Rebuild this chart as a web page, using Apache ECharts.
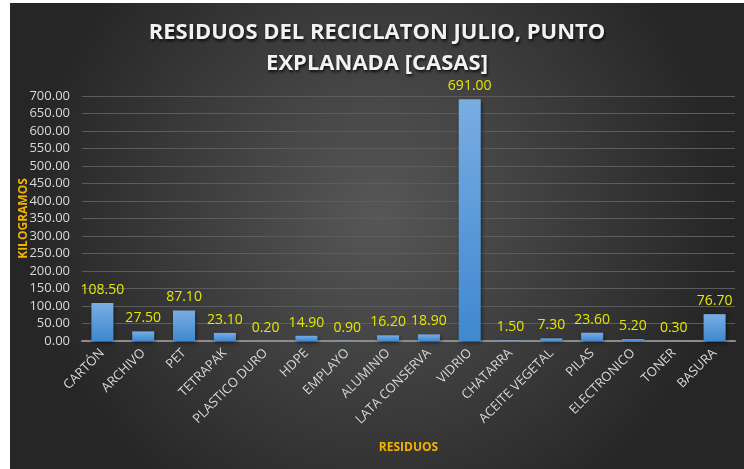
<!DOCTYPE html>
<html>
<head>
<meta charset="utf-8">
<script src="https://cdn.jsdelivr.net/npm/echarts@6/dist/echarts.min.js"></script>
<style>
  html, body { margin: 0; padding: 0; background: #ffffff; }
  #chart { position: absolute; left: 10px; top: 3px; width: 734px; height: 466px; }
</style>
</head>
<body>
<div id="chart"></div>
<script>
const categories = ['CARTÓN', 'ARCHIVO', 'PET', 'TETRAPAK', 'PLASTICO DURO', 'HDPE', 'EMPLAYO', 'ALUMINIO',
  'LATA CONSERVA', 'VIDRIO', 'CHATARRA', 'ACEITE VEGETAL', 'PILAS', 'ELECTRONICO', 'TONER', 'BASURA']
const kilos = [108.5, 27.5, 87.1, 23.1, 0.2, 14.9, 0.9, 16.2, 18.9, 691.0, 1.5, 7.3, 23.6, 5.2, 0.3, 76.7]
const yMin = 0
const yMax = 700
const yStep = 50

const chart = echarts.init(document.getElementById('chart'))

const option = {
  backgroundColor: {
    type: 'radial', x: 0.5, y: 0.45, r: 0.75,
    colorStops: [
      { offset: 0, color: '#575757' },
      { offset: 1, color: '#262626' }
    ]
  },
  title: {
    text: 'RESIDUOS DEL RECICLATON JULIO, PUNTO\nEXPLANADA [CASAS]',
    left: 'center',
    top: 9,
    textStyle: {
      fontFamily: 'Open Sans',
      fontSize: 22,
      fontWeight: 'bold',
      color: '#f2f2f2',
      lineHeight: 31,
      textShadowColor: 'rgba(0,0,0,0.8)',
      textShadowBlur: 3,
      textShadowOffsetX: 1,
      textShadowOffsetY: 2
    }
  },
  grid: { left: 72, right: 9, top: 93, bottom: 128, outerBoundsMode: 'none' },
  xAxis: {
    type: 'category',
    data: categories,
    name: 'RESIDUOS',
    nameLocation: 'middle',
    nameGap: 101,
    nameMoveOverlap: false,
    nameTextStyle: { color: '#f0b400', fontWeight: 'bold', fontSize: 12, fontFamily: 'Open Sans' },
    axisLine: { lineStyle: { color: '#8c8c8c', width: 2 } },
    axisTick: { show: false },
    axisLabel: {
      rotate: 45,
      interval: 0,
      color: '#d9d9d9',
      fontSize: 13,
      fontFamily: 'Open Sans',
      margin: 10
    }
  },
  yAxis: {
    type: 'value',
    min: yMin,
    max: yMax,
    interval: yStep,
    name: 'KILOGRAMOS',
    nameLocation: 'middle',
    nameGap: 52,
    nameMoveOverlap: false,
    nameRotate: 90,
    nameTextStyle: { color: '#f0b400', fontWeight: 'bold', fontSize: 12, fontFamily: 'Open Sans' },
    axisLabel: {
      color: '#d9d9d9',
      fontSize: 13,
      fontFamily: 'Open Sans',
      margin: 12,
      formatter: v => v.toFixed(2)
    },
    axisLine: { show: false },
    axisTick: { show: false },
    splitLine: { lineStyle: { color: '#5c5c5c', width: 1 } }
  },
  series: [{
    type: 'bar',
    data: kilos,
    barWidth: '54%',
    itemStyle: {
      color: {
        type: 'linear', x: 0, y: 0, x2: 0, y2: 1,
        colorStops: [
          { offset: 0, color: '#79ade2' },
          { offset: 1, color: '#3f88d0' }
        ]
      },
      shadowColor: 'rgba(0,0,0,0.5)',
      shadowBlur: 4,
      shadowOffsetX: 1,
      shadowOffsetY: 2
    },
    label: {
      show: true,
      position: 'top',
      distance: 6,
      color: '#e6e600',
      fontSize: 14,
      fontFamily: 'Open Sans',
      formatter: p => p.value.toFixed(2)
    }
  }]
}

chart.setOption(option)
</script>
</body>
</html>
